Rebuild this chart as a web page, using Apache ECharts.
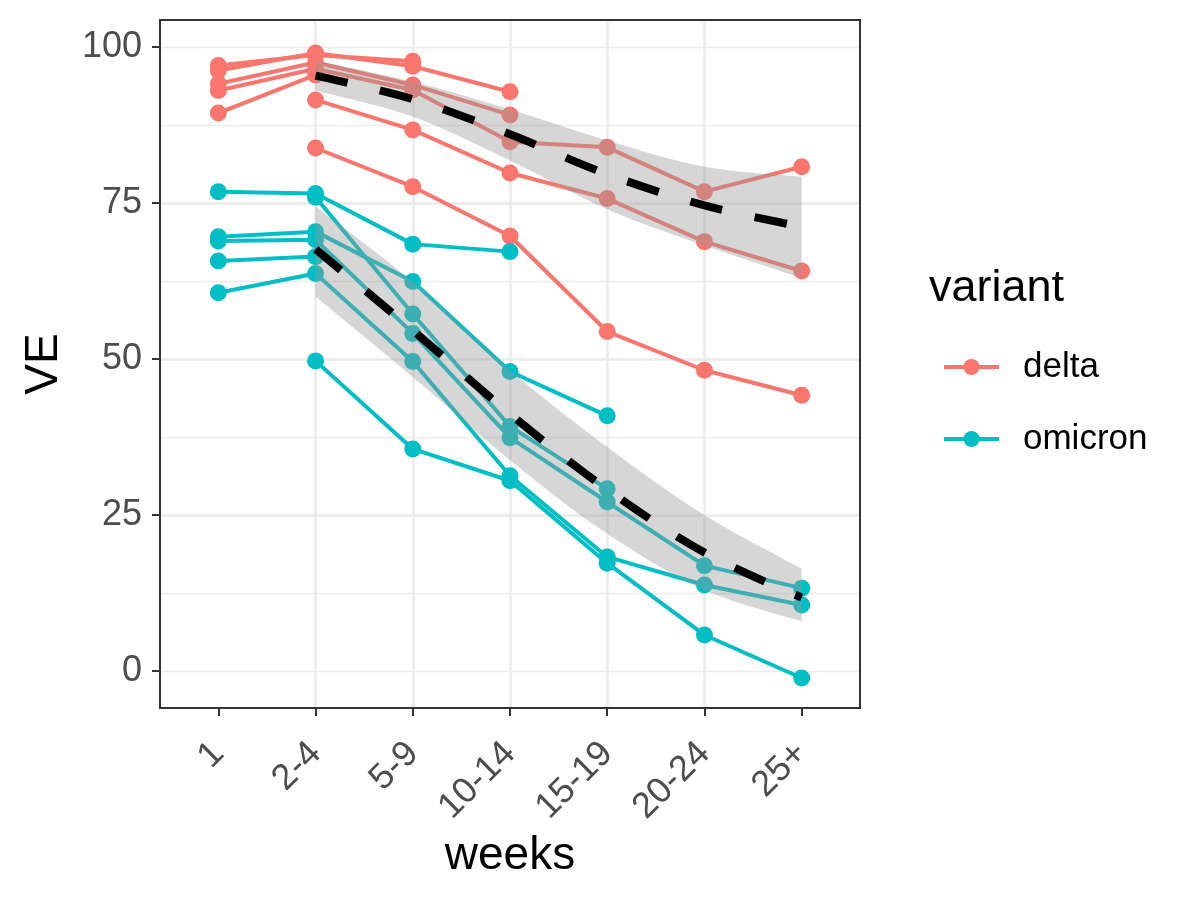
<!DOCTYPE html>
<html><head><meta charset="utf-8">
<script src="https://cdn.jsdelivr.net/npm/echarts@6/dist/echarts.min.js"></script>
<style>html,body{margin:0;padding:0;background:#fff}#c{width:1200px;height:900px}</style>
</head><body><div id="c"></div>
<script>
// ---- data ----
const weeks = ['1', '2-4', '5-9', '10-14', '15-19', '20-24', '25+'];
const yTicks = [0, 25, 50, 75, 100];

// delta studies (VE by week bin; null = not reported)
const d1 = [97.0, 98.7, 97.7, null, null, null, null];
const d2 = [96.2, 99.0, 96.9, 92.8, null, null, null];
const d3 = [94.1, 97.5, 93.9, 89.1, null, null, null];
const d4 = [93.0, 96.5, 93.1, 84.8, 83.9, 76.8, 80.8];
const d5 = [89.4, 95.5, null, null, null, null, null];
const d6 = [null, 91.5, 86.7, 79.8, 75.7, 68.8, 64.1];
const d7 = [null, 83.8, 77.6, 69.7, 54.4, 48.2, 44.2];

// omicron studies
const o1 = [76.8, 76.5, 68.4, 67.2, null, null, null];
const o2 = [null, 75.9, 57.2, 39.2, 29.2, null, null];
const o3 = [69.6, 70.4, 62.4, 48.0, 40.9, null, null];
const o4 = [68.9, 69.1, 54.1, 37.4, 27.1, 16.9, 13.3];
const o5 = [65.7, 66.4, null, null, null, null, null];
const o6 = [60.6, 63.7, 49.6, 31.3, 18.3, 13.8, 10.6];
const o7 = [null, 49.7, 35.6, 30.5, 17.3, 5.8, -1.1];

// smoothed fits with confidence bands
const deltaFit = [null, 95.4, 91.6, 86.0, 79.6, 74.6, 71.2];
const deltaLo  = [null, 93.0, 88.8, 81.8, 74.0, 68.2, 63.0];
const deltaHi  = [null, 97.8, 94.4, 90.0, 85.0, 80.8, 79.2];
const omiFit   = [null, 67.6, 54.6, 41.2, 29.1, 19.0, 11.8];
const omiLo    = [null, 60.0, 47.1, 33.8, 22.0, 13.0, 8.0];
const omiHi    = [null, 74.4, 62.4, 48.2, 35.9, 25.0, 16.4];

const yMin = -5.9, yMax = 104.3;
const xMin = 0.4, xMax = 7.6;

// ---- build ----
const FONT = "'Liberation Sans', Arial, Helvetica, sans-serif";
const DELTA = '#F8766D', OMI = '#00BFC4';
const toPairs = arr => arr.map((v, i) => v == null ? null : [i + 1, v]).filter(p => p);

const deltaLines = [d1, d2, d3, d4, d5, d6, d7];
const omiLines = [o1, o2, o3, o4, o5, o6, o7];

const series = [];
function addLines(name, color, lines) {
  lines.forEach(l => series.push({
    type: 'line', name, data: toPairs(l), color, symbol: 'circle', showSymbol: false,
    lineStyle: { width: 4, color }, z: 2, silent: true, animation: false
  }));
}
function addPoints(name, color, lines) {
  lines.forEach(l => series.push({
    type: 'scatter', name, data: toPairs(l), symbol: 'circle', symbolSize: 17,
    itemStyle: { color, opacity: 1 }, z: 3, silent: true, animation: false
  }));
}
function smoothD(pts, start) {
  let d = start ? 'M' + pts[0][0] + ' ' + pts[0][1] : 'L' + pts[0][0] + ' ' + pts[0][1];
  for (let i = 0; i < pts.length - 1; i++) {
    const p0 = pts[i - 1] || pts[i], p1 = pts[i], p2 = pts[i + 1], p3 = pts[i + 2] || p2;
    const c1 = [p1[0] + (p2[0] - p0[0]) / 6, p1[1] + (p2[1] - p0[1]) / 6];
    const c2 = [p2[0] - (p3[0] - p1[0]) / 6, p2[1] - (p3[1] - p1[1]) / 6];
    d += ' C' + c1[0] + ' ' + c1[1] + ' ' + c2[0] + ' ' + c2[1] + ' ' + p2[0] + ' ' + p2[1];
  }
  return d;
}
function addBand(key, lo, hi, fit) {
  series.push({
    type: 'custom', name: key + '-band', coordinateSystem: 'cartesian2d',
    data: [toPairs(fit)[0]], z: 4, silent: true, animation: false, clip: false,
    renderItem: (params, api) => {
      const up = toPairs(hi).map(p => api.coord(p));
      const dn = toPairs(lo).map(p => api.coord(p)).reverse();
      const d = smoothD(up, true) + ' ' + smoothD(dn, false) + ' Z';
      return { type: 'path', shape: { pathData: d }, style: { fill: 'rgba(153,153,153,0.4)', stroke: null } };
    }
  });
  series.push({
    type: 'line', name: key + '-fit', data: toPairs(fit), smooth: 0.33, symbol: 'none',
    lineStyle: { color: '#000', width: 8, type: [33, 33], cap: 'butt' }, z: 5, silent: true, animation: false
  });
}
addLines('delta', DELTA, deltaLines);
addLines('omicron', OMI, omiLines);
addPoints('delta', DELTA, deltaLines);
addPoints('omicron', OMI, omiLines);
addBand('delta', deltaLo, deltaHi, deltaFit);
addBand('omicron', omiLo, omiHi, omiFit);

const chart = echarts.init(document.getElementById('c'), null, { renderer: 'canvas' });
chart.setOption({
  animation: false,
  backgroundColor: '#fff',
  textStyle: { fontFamily: FONT },
  grid: { left: 160, top: 20, width: 700, height: 688, show: true, borderColor: '#333333', borderWidth: 2, backgroundColor: 'transparent', z: 10 },
  title: { text: 'variant', left: 924, top: 261, textStyle: { fontSize: 45, fontWeight: 'normal', color: '#000', fontFamily: FONT } },
  legend: {
    orient: 'vertical', left: 937, top: 342, itemWidth: 55, itemHeight: 20, itemGap: 32,
    data: ['delta', 'omicron'], selectedMode: false,
    lineStyle: { width: 4 },
    textStyle: { fontSize: 35, color: '#000', fontFamily: FONT, lineHeight: 40, padding: [0, 0, 0, 19] }
  },
  xAxis: {
    type: 'value', min: xMin, max: xMax, minInterval: 1, maxInterval: 1,
    axisLine: { show: false, onZero: false },
    axisTick: { show: true, length: 8, lineStyle: { color: '#333', width: 2 }, customValues: [1, 2, 3, 4, 5, 6, 7] },
    axisLabel: {
      customValues: [1, 2, 3, 4, 5, 6, 7],
      formatter: v => (Math.abs(v - Math.round(v)) < 1e-6 && weeks[Math.round(v) - 1]) || '',
      rotate: 45, align: 'right', verticalAlign: 'middle', margin: 40,
      fontSize: 36, color: '#4D4D4D', fontFamily: FONT
    },
    splitLine: { show: true, lineStyle: { color: '#EBEBEB', width: 2.6 }, showMinLine: false, showMaxLine: false },
    name: 'weeks', nameLocation: 'middle', nameGap: 97,
    nameTextStyle: { fontSize: 46, color: '#000', fontFamily: FONT }
  },
  yAxis: [{
    type: 'value', min: yMin, max: yMax, minInterval: 25, maxInterval: 25,
    axisLine: { show: false, onZero: false },
    axisTick: { show: true, length: 8, lineStyle: { color: '#333', width: 2 }, customValues: yTicks },
    axisLabel: { customValues: yTicks, fontSize: 36, color: '#4D4D4D', margin: 18, fontFamily: FONT },
    splitLine: { show: true, lineStyle: { color: '#EBEBEB', width: 2.6 }, showMinLine: false, showMaxLine: false },
    name: 'VE', nameLocation: 'middle', nameGap: 93,
    nameTextStyle: { fontSize: 46, color: '#000', fontFamily: FONT }
  }, {
    type: 'value', min: yMin, max: yMax, minInterval: 12.5, maxInterval: 12.5, position: 'left',
    axisLine: { show: false, onZero: false }, axisTick: { show: false }, axisLabel: { show: false },
    splitLine: { show: true, lineStyle: { color: '#EBEBEB', width: 1.3 }, showMinLine: false, showMaxLine: false }
  }],
  series
});
</script></body></html>
